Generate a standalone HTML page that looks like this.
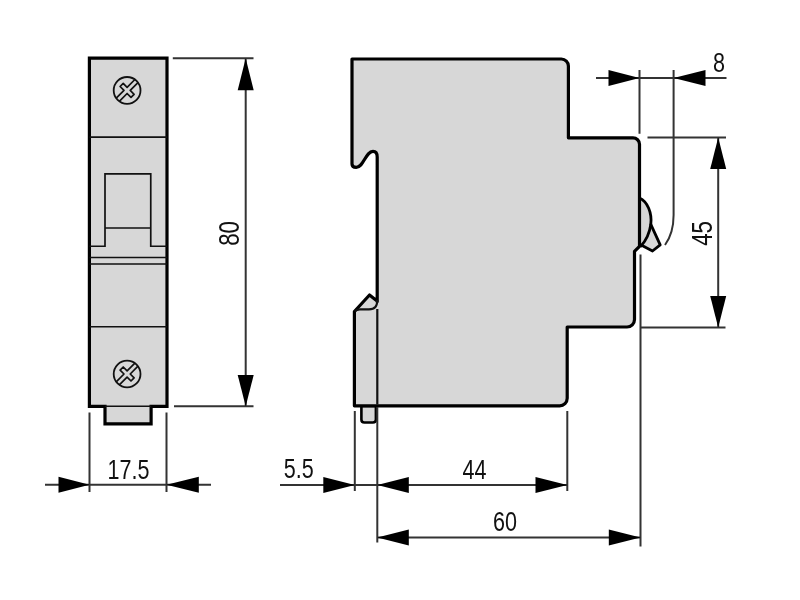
<!DOCTYPE html>
<html lang="en">
<head>
<meta charset="utf-8">
<title>Dimensions</title>
<style>
html,body{margin:0;padding:0;background:#fff;}
body{width:800px;height:600px;overflow:hidden;}
svg{display:block;will-change:transform;}
.t{font-family:"Liberation Sans",Arial,sans-serif;font-size:28px;fill:#111;}
.body{fill:#d7d7d7;stroke:#000;stroke-width:3.2;stroke-linejoin:round;stroke-linecap:round;}
.med{fill:none;stroke:#111;stroke-width:1.7;}
.thin{fill:none;stroke:#333;stroke-width:2;}
.arr{fill:#000;stroke:none;}
</style>
</head>
<body>
<svg width="800" height="600" viewBox="0 0 800 600">
<rect width="800" height="600" fill="#fff"/>

<!-- ===== front view ===== -->
<g id="front">
  <path class="body" style="stroke-linejoin:miter" d="M89.4,58.2H167V406.3H151.1V423.9H105V406.3H89.4Z"/>
  <path class="med" d="M105,406.3H151.1" style="stroke-width:1.5"/>
  <path class="med" d="M89.4,137.2H167 M89.4,257.5H167 M89.4,264H167 M89.4,326.75H167"/>
  <path class="med" d="M89.4,246.25H105V173.9H150.75V246.25H167 M105,228H150.75"/>
  <g id="screw1" transform="translate(127.1,90.4)">
    <circle r="13.4" fill="none" stroke="#111" stroke-width="1.8"/>
    <g transform="rotate(-45)" fill="none" stroke="#111" stroke-width="1.7" stroke-linejoin="round">
      <path d="M-13.2,-2.2H-2.2V-7.7H2.2V-2.2H13.2 M-13.2,2.2H-2.2V7.7H2.2V2.2H13.2"/>
    </g>
  </g>
  <g id="screw2" transform="translate(127.1,374)">
    <circle r="13.4" fill="none" stroke="#111" stroke-width="1.8"/>
    <g transform="rotate(-45)" fill="none" stroke="#111" stroke-width="1.7" stroke-linejoin="round">
      <path d="M-13.2,-2.2H-2.2V-7.7H2.2V-2.2H13.2 M-13.2,2.2H-2.2V7.7H2.2V2.2H13.2"/>
    </g>
  </g>
</g>

<!-- ===== side view ===== -->
<g id="side">
  <!-- pin -->
  <path class="body" d="M361.4,406V419.5Q361.4,422.5 364.4,422.5H372.9Q375.9,422.5 375.9,419.5V406Z" style="stroke-width:2.6"/>
  <!-- fills -->
  <path fill="#d7d7d7" d="M354.4,405.4V311.5L369.5,295L377.2,301V405.4Z"/>
  <path fill="#d7d7d7" d="M352.0,59.0H561.4A7,7 0 0 1 568.4,66.0V137.85H633.0A6.5,6.5 0 0 1 639.5,144.35V246.3L634.5,251.3V319.5A7.5,7.5 0 0 1 627.0,327.0H567.2V398.3A7.5,7.5 0 0 1 559.7,405.8H377.2V157Q377.2,151.3 373,151.3C365.8,151.3 363.5,167.4 356.2,167.4Q352.0,167.4 352.0,164Z"/>
  <!-- toggle -->
  <path fill="#d7d7d7" d="M639.5,198C647.5,201.5 652,213 650.8,224.4L660.2,244.8L652.5,251L643,246L639.5,246Z"/>
  <path class="body" style="fill:none;stroke-width:2.8" d="M639.5,198C647.5,201.5 652.2,213 650.8,224.4C649.5,233.5 646,240.5 641,246"/>
  <path class="body" style="fill:none;stroke-width:2.8" d="M650.8,224.4L660.2,244.8L652.5,251L643,246"/>
  <!-- outline -->
  <path class="body" style="fill:none" d="M376.8,300.8L369.5,295L354.4,311.5V405.8H559.7A7.5,7.5 0 0 0 567.2,398.3V327.0H627.0A7.5,7.5 0 0 0 634.5,319.5V251.3L639.5,246.3V144.35A6.5,6.5 0 0 0 633.0,137.85H568.4V66.0A7,7 0 0 0 561.4,59.0H352.0V164Q352.0,167.4 356.2,167.4C363.5,167.4 365.8,151.3 373,151.3Q377.2,151.3 377.2,157V301.5"/>
  <path class="med" d="M377.3,309V404.5" style="stroke:#111;stroke-width:2.2"/>
  <path class="med" d="M377.2,300Q377.6,309.3 369,309.3H360Q356.5,309.3 354.6,311.3" style="stroke-width:2.2"/>
</g>

<!-- ===== dimension lines ===== -->
<g class="thin">
  <!-- 17.5 -->
  <path d="M89.5,412.5V492 M166.5,412.5V492 M45,484.8H211"/>
  <!-- 80 -->
  <path d="M172.8,58.3H253.5 M174,406.3H253.5 M245.7,58.3V406.3"/>
  <!-- 5.5 / 44 -->
  <path d="M354.8,411V491 M377.3,407V542.5 M567.3,411V491 M280,485H567.3"/>
  <!-- 60 -->
  <path d="M640.5,254.5V546.5 M377.3,537.6H640.5"/>
  <!-- 8 -->
  <path d="M596,78H726.5 M639.5,70V133.8 M673.6,70V215C673.6,229 670.5,237.5 665,245"/>
  <!-- 45 -->
  <path d="M647.5,137.4H726 M641,327.4H725.5 M718.2,137.4V327.4"/>
</g>
<g class="arr">
  <path d="M89.5,484.8L58.5,476.8V492.8Z"/>
  <path d="M166.5,484.8L198.8,476.8V492.8Z"/>
  <path d="M245.7,58.3L237.7,90.3H253.7Z"/>
  <path d="M245.7,406.3L237.7,375H253.7Z"/>
  <path d="M354.8,485L323.3,477.0V493.0Z"/>
  <path d="M377.3,485L408.8,477.0V493.0Z"/>
  <path d="M567.3,485L535.5,477.0V493.0Z"/>
  <path d="M377.3,537.6L408.8,529.6V545.6Z"/>
  <path d="M640.5,537.6L608.8,529.6V545.6Z"/>
  <path d="M639.5,78L608.5,70.0V86.0Z"/>
  <path d="M673.6,78L705.5,70.0V86.0Z"/>
  <path d="M718.2,137.4L710.2,169H726.2Z"/>
  <path d="M718.2,327.4L710.2,296H726.2Z"/>
</g>

<!-- ===== labels ===== -->
<g class="t" text-anchor="middle">
  <text transform="translate(128.4,478.8) scale(0.77,1)">17.5</text>
  <text transform="translate(298.8,478.3) scale(0.77,1)">5.5</text>
  <text transform="translate(474.6,478.8) scale(0.77,1)">44</text>
  <text transform="translate(505,530.6) scale(0.77,1)">60</text>
  <text transform="translate(719,72.2) scale(0.77,1)">8</text>
  <text transform="translate(239.3,233.4) rotate(-90) scale(0.8,1.05)">80</text>
  <text transform="translate(712.3,233.4) rotate(-90) scale(0.8,1.04)">45</text>
</g>
</svg>
</body>
</html>
